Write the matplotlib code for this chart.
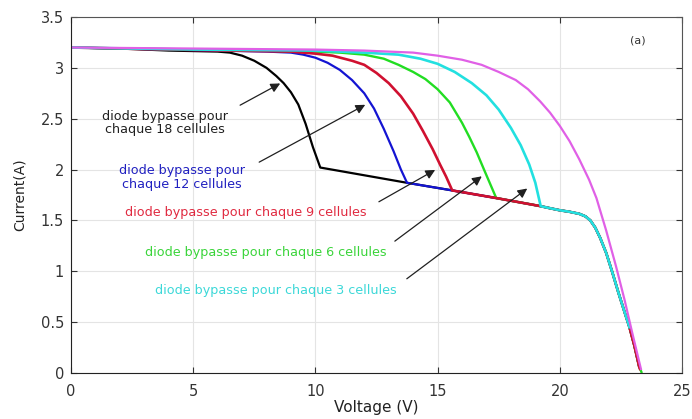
import numpy as np
import matplotlib
matplotlib.use("Agg")
import matplotlib.pyplot as plt

plt.rcParams['font.family'] = ['DejaVu Sans']

# partie commune a toutes les courbes ombrees (apres le coude)
V_queue = [13.75, 15.6, 17.4, 19.22, 19.6, 20.0, 20.4, 20.8, 21.05, 21.25, 21.45, 21.65,
           21.9, 22.15, 22.4, 22.65, 22.85, 23.05, 23.25]
I_queue = [1.87, 1.795, 1.72, 1.64, 1.62, 1.60, 1.585, 1.565, 1.54, 1.50, 1.43, 1.33,
           1.18, 0.99, 0.79, 0.60, 0.45, 0.27, 0.06]

V_18 = [0, 2, 4, 6.0, 6.5, 7.0, 7.5, 8.0, 8.4, 8.7, 9.0, 9.3, 9.6, 9.9, 10.2]
I_18 = [3.2, 3.19, 3.17, 3.16, 3.15, 3.12, 3.07, 3.0, 2.92, 2.85, 2.76, 2.64, 2.45, 2.22, 2.02]

V_12 = [0, 4, 8, 9, 9.5, 10, 10.5, 11, 11.5, 12, 12.4, 12.8, 13.2, 13.5, 13.75]
I_12 = [3.2, 3.18, 3.16, 3.15, 3.13, 3.1, 3.05, 2.98, 2.88, 2.75, 2.6, 2.4, 2.18, 2.0, 1.87]

V_9 = [0, 4, 9, 10, 10.7, 11.5, 12, 12.5, 13, 13.5, 14, 14.4, 14.8, 15.1, 15.35, 15.6]
I_9 = [3.2, 3.18, 3.16, 3.14, 3.12, 3.07, 3.03, 2.95, 2.85, 2.72, 2.55, 2.38, 2.2, 2.05, 1.93, 1.795]

V_6 = [0, 5, 10, 11, 12, 12.8, 13.4, 14, 14.5, 15, 15.5, 16, 16.3, 16.6, 16.9, 17.15, 17.4]
I_6 = [3.2, 3.18, 3.16, 3.15, 3.13, 3.09, 3.03, 2.96, 2.89, 2.79, 2.66, 2.46, 2.32, 2.17, 2.0, 1.86, 1.72]

V_3 = [0, 5, 10, 12, 13.4, 14.3, 15, 15.7, 16.4, 17, 17.5, 18, 18.4, 18.75, 19, 19.22]
I_3 = [3.2, 3.18, 3.17, 3.15, 3.13, 3.09, 3.04, 2.96, 2.85, 2.73, 2.59, 2.41, 2.24, 2.05, 1.87, 1.64]

V_sans = [0, 5, 10, 12, 14, 15, 16, 16.8, 17.5, 18.2, 18.7, 19.2, 19.6, 20.0, 20.4, 20.8,
          21.2, 21.5, 21.9, 22.3, 22.65, 22.97, 23.32]
I_sans = [3.2, 3.19, 3.18, 3.17, 3.15, 3.12, 3.08, 3.03, 2.96, 2.88, 2.79, 2.67, 2.56, 2.43,
          2.28, 2.1, 1.9, 1.72, 1.4, 1.05, 0.72, 0.39, 0.04]

# extremites basses visibles sous la courbe cyan
V_fin_9, I_fin_9 = [23.28], [0.04]
V_fin_6, I_fin_6 = [23.34], [0.01]
I_coupe_3 = 0.3


def avec_queue(V, I, I_min=0.0):
    v = list(V) + [a for a, b in zip(V_queue, I_queue) if a > V[-1] and b >= I_min]
    i = list(I) + [b for a, b in zip(V_queue, I_queue) if a > V[-1] and b >= I_min]
    return v, i


fig = plt.figure(figsize=(6.92, 4.19), dpi=100)
ax = fig.add_axes([0.1026, 0.1098, 0.8829, 0.8496])

v, i = avec_queue(V_18, I_18)
ax.plot(v, i, color='black', lw=1.6, solid_joinstyle='round')
v, i = avec_queue(V_12, I_12)
ax.plot(v, i, color='#1414d2', lw=1.6, solid_joinstyle='round')
v, i = avec_queue(V_6, I_6)
ax.plot(v + V_fin_6, i + I_fin_6, color='#22dd22', lw=1.7, solid_joinstyle='round')
v, i = avec_queue(V_9, I_9)
ax.plot(v + V_fin_9, i + I_fin_9, color='#d01030', lw=1.9, solid_joinstyle='round')
v, i = avec_queue(V_3, I_3, I_coupe_3)
ax.plot(v, i, color='#22e0e0', lw=1.9, solid_joinstyle='round')
ax.plot(V_sans, I_sans, color='#e060e6', lw=1.6, solid_joinstyle='round')

ax.set_xlim(0, 25)
ax.set_ylim(0, 3.5)
ax.set_xticks([0, 5, 10, 15, 20, 25])
ax.set_yticks([0, 0.5, 1, 1.5, 2, 2.5, 3, 3.5])
ax.set_yticklabels(['0', '0.5', '1', '1.5', '2', '2.5', '3', '3.5'])
ax.grid(True, color='#e4e4e4', lw=0.8)
ax.set_axisbelow(True)
ax.tick_params(direction='in', top=True, right=True, length=4, labelsize=10.5,
               colors='#333333', pad=5)
ax.tick_params(axis='x', pad=8)
for s in ['left', 'bottom']:
    ax.spines[s].set_color('#222222')
for s in ['top', 'right']:
    ax.spines[s].set_color('#555555')
ax.set_xlabel('Voltage (V)', fontsize=11, color='#222222', labelpad=1)
ax.set_ylabel('Current(A)', fontsize=10, color='#222222', labelpad=10)

fleche = dict(arrowstyle='-|>', color='#202020', lw=0.9, mutation_scale=14)
police = dict(ha='center', va='center', fontsize=9.2)
ax.text(3.85, 2.46, 'diode bypasse pour\nchaque 18 cellules', color='#202020',
        linespacing=1.0, **police)
ax.annotate('', xy=(8.66, 2.86), xytext=(6.82, 2.62), arrowprops=fleche)
ax.text(4.55, 1.92, 'diode bypasse pour\nchaque 12 cellules', color='#2020c0',
        linespacing=1.1, **police)
ax.annotate('', xy=(12.14, 2.65), xytext=(7.6, 2.06), arrowprops=fleche)
ax.text(7.15, 1.58, 'diode bypasse pour chaque 9 cellules', color='#e02a40', **police)
ax.annotate('', xy=(15.0, 2.01), xytext=(12.5, 1.67), arrowprops=fleche)
ax.text(7.97, 1.18, 'diode bypasse pour chaque 6 cellules', color='#3ad43a', **police)
ax.annotate('', xy=(16.9, 1.95), xytext=(13.16, 1.28), arrowprops=fleche)
ax.text(8.38, 0.81, 'diode bypasse pour chaque 3 cellules', color='#3cd8d8', **police)
ax.annotate('', xy=(18.76, 1.83), xytext=(13.65, 0.91), arrowprops=fleche)
ax.text(23.2, 3.27, '(a)', fontsize=8, color='#333333', ha='center', va='center')

fig.savefig('out.png', dpi=100)
